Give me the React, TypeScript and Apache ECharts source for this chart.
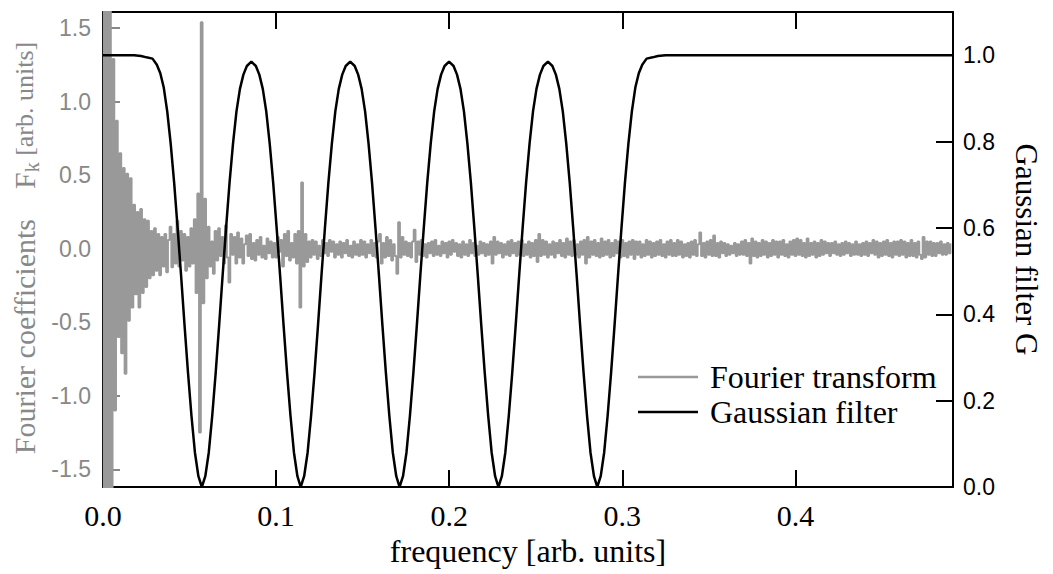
import React, { useEffect, useRef } from 'react';
import * as echarts from 'echarts';

// Sampling step of the Fourier coefficients along the frequency axis
const FREQ_STEP = 0.001;

// Fourier coefficients F_k (left axis), one value per frequency bin (0.000, 0.001, ...)
const fourierCoefficients: number[] = [
  2.6, -2.5, 2.7, -2.4, 2.5, -2.3, 1.29, -1.1, 0.87, -0.6,
  0.65, -0.71, 0.55, -0.85, 0.51, -0.49, 0.48, -0.4, 0.3, -0.31,
  0.25, -0.4, 0.27, -0.3, 0.2, -0.26, 0.19, -0.2, 0.12, -0.18,
  0.14, -0.15, 0.1, -0.18, 0.08, -0.12, 0.1, -0.16, 0.06, 0.15,
  -0.125, 0.1, -0.1, 0.19, -0.12, 0.12, -0.08, 0.1, -0.15, 0.08,
  -0.12, 0.14, -0.1, 0.2, -0.30, 0.375, -1.25, 1.54, -0.37, 0.34,
  -0.2, 0.15, -0.12, 0.05, -0.17, 0.12, -0.08, 0.14, -0.05, 0.08,
  -0.1, 0.16, -0.06, -0.23, 0.1, -0.04, 0.08, -0.1, 0.11, -0.06,
  0.07, -0.1, 0.03, 0.09, -0.05, 0.1, -0.07, 0.04, -0.08, 0.06,
  -0.04, 0.08, -0.06, 0.02, -0.07, 0.07, -0.03, 0.05, -0.06, 0.04,
  -0.06, 0.08, -0.02, 0.06, -0.12, 0.1, -0.05, 0.12, -0.08, 0.04,
  -0.06, 0.1, -0.1, 0.12, -0.40, 0.45, -0.12, 0.1, -0.09, 0.05,
  -0.06, 0.06, -0.04, 0.05, -0.07, 0.02, -0.05, 0.06, -0.03, 0.04,
  -0.05, 0.06, -0.02, 0.05, -0.06, 0.03, -0.04, 0.05, -0.06, 0.04,
  -0.03, 0.06, -0.05, 0.02, -0.06, 0.05, -0.04, 0.03, -0.05, 0.06,
  -0.04, 0.05, -0.06, 0.03, -0.03, 0.06, -0.05, 0.04, -0.06, 0.05,
  0.1, -0.1, 0.04, -0.06, 0.08, -0.05, 0.06, -0.08, 0.03, -0.05,
  -0.17, 0.18, -0.06, 0.08, -0.04, 0.05, -0.05, 0.04, -0.06, 0.05,
  0.13, -0.09, 0.05, -0.04, 0.06, -0.05, 0.03, -0.06, 0.04, -0.03,
  0.05, -0.05, 0.06, -0.04, 0.02, -0.05, 0.05, -0.03, 0.04, -0.06,
  0.05, -0.04, 0.06, -0.02, 0.04, -0.05, 0.03, -0.06, 0.05, -0.04,
  0.03, -0.05, 0.06, -0.03, 0.04, -0.05, 0.02, -0.04, 0.05, -0.03,
  0.04, -0.05, 0.03, -0.04, 0.05, -0.10, 0.08, -0.04, 0.05, -0.03,
  0.04, -0.06, 0.03, -0.04, 0.05, -0.05, 0.06, -0.03, 0.04, -0.05,
  0.05, -0.04, 0.06, -0.05, 0.03, -0.04, 0.05, -0.06, 0.04, -0.05,
  0.06, -0.09, 0.10, -0.05, 0.06, -0.04, 0.05, -0.06, 0.03, -0.04,
  0.05, -0.06, 0.04, -0.03, 0.06, -0.05, 0.04, -0.06, 0.07, -0.04,
  0.05, -0.05, 0.06, -0.04, 0.03, -0.06, 0.05, -0.04, 0.06, -0.10,
  0.08, -0.06, 0.05, -0.04, 0.06, -0.05, 0.04, -0.06, 0.07, -0.05,
  0.05, -0.04, 0.06, -0.06, 0.04, -0.05, 0.06, -0.03, 0.05, -0.06,
  0.06, -0.05, 0.04, -0.06, 0.05, -0.04, 0.06, -0.07, 0.05, -0.04,
  0.05, -0.06, 0.03, -0.05, 0.06, -0.04, 0.05, -0.06, 0.04, -0.05,
  0.05, -0.04, 0.06, -0.05, 0.03, -0.06, 0.05, -0.04, 0.06, -0.05,
  0.04, -0.05, 0.06, -0.04, 0.05, -0.06, 0.03, -0.05, 0.04, -0.06,
  0.05, -0.04, 0.06, -0.05, 0.03, 0.11, -0.05, 0.04, -0.06, 0.05,
  -0.04, 0.06, -0.05, 0.09, -0.05, 0.04, -0.06, 0.05, -0.03, 0.04,
  -0.05, 0.03, -0.04, 0.02, -0.03, 0.04, -0.05, 0.03, -0.04, 0.05,
  -0.04, 0.06, -0.05, 0.04, -0.10, 0.07, -0.05, 0.05, -0.06, 0.04,
  -0.05, 0.06, -0.04, 0.05, -0.06, 0.04, -0.05, 0.06, -0.04, 0.05,
  -0.06, 0.05, -0.04, 0.06, -0.05, 0.03, -0.06, 0.05, -0.04, 0.06,
  -0.05, 0.07, -0.04, 0.06, -0.05, 0.04, -0.06, 0.07, -0.05, 0.04,
  -0.04, 0.05, -0.06, 0.04, -0.05, 0.06, -0.04, 0.05, -0.03, 0.04,
  -0.05, 0.04, -0.03, 0.05, -0.04, 0.03, -0.05, 0.04, -0.04, 0.05,
  -0.03, 0.04, -0.05, 0.03, -0.04, 0.05, -0.04, 0.03, -0.05, 0.04,
  -0.04, 0.05, -0.05, 0.04, -0.03, 0.06, -0.04, 0.05, -0.06, 0.04,
  -0.05, 0.05, -0.04, 0.06, -0.05, 0.04, -0.06, 0.05, -0.04, 0.05,
  -0.05, 0.06, -0.04, 0.05, -0.06, 0.04, -0.05, 0.06, -0.05, 0.04,
  -0.06, 0.05, -0.04, -0.07, 0.08, -0.06, 0.05, -0.04, 0.05, -0.05,
  0.04, -0.05, 0.04, -0.03, 0.05, -0.04, 0.03, -0.04, 0.04, -0.03,
  0.03,
];

// Gaussian filter G (right axis): [frequency, G]
const gaussianFilter: [number, number][] = [
  [0.000, 1.000], [0.018, 1.000], [0.022, 0.998], [0.0251, 0.995], [0.0286, 0.992], [0.0311, 0.978],
  [0.0331, 0.958], [0.0351, 0.925], [0.0371, 0.870], [0.0391, 0.795], [0.0411, 0.705], [0.0431, 0.600],
  [0.0451, 0.490], [0.0471, 0.375], [0.0491, 0.265], [0.0511, 0.165], [0.0531, 0.080], [0.0551, 0.025], [0.0571, 0.000],
  [0.0591, 0.025], [0.0611, 0.080], [0.0631, 0.165], [0.0651, 0.265], [0.0671, 0.375], [0.0691, 0.490], [0.0711, 0.600],
  [0.0731, 0.705], [0.0751, 0.795], [0.0771, 0.870], [0.0791, 0.922], [0.0811, 0.955], [0.0831, 0.975], [0.0857, 0.985],
  [0.0883, 0.975], [0.0903, 0.955], [0.0923, 0.922], [0.0943, 0.870], [0.0963, 0.795], [0.0983, 0.705], [0.1003, 0.600],
  [0.1023, 0.490], [0.1043, 0.375], [0.1063, 0.265], [0.1083, 0.165], [0.1103, 0.080], [0.1123, 0.025], [0.1142, 0.000],
  [0.1162, 0.025], [0.1182, 0.080], [0.1202, 0.165], [0.1222, 0.265], [0.1242, 0.375], [0.1262, 0.490], [0.1282, 0.600],
  [0.1302, 0.705], [0.1322, 0.795], [0.1342, 0.870], [0.1362, 0.922], [0.1382, 0.955], [0.1402, 0.975], [0.1428, 0.985],
  [0.1454, 0.975], [0.1474, 0.955], [0.1494, 0.922], [0.1514, 0.870], [0.1534, 0.795], [0.1554, 0.705], [0.1574, 0.600],
  [0.1594, 0.490], [0.1614, 0.375], [0.1634, 0.265], [0.1654, 0.165], [0.1674, 0.080], [0.1694, 0.025], [0.1713, 0.000],
  [0.1733, 0.025], [0.1753, 0.080], [0.1773, 0.165], [0.1793, 0.265], [0.1813, 0.375], [0.1833, 0.490], [0.1853, 0.600],
  [0.1873, 0.705], [0.1893, 0.795], [0.1913, 0.870], [0.1933, 0.922], [0.1953, 0.955], [0.1973, 0.975], [0.1999, 0.985],
  [0.2025, 0.975], [0.2045, 0.955], [0.2065, 0.922], [0.2085, 0.870], [0.2105, 0.795], [0.2125, 0.705], [0.2145, 0.600],
  [0.2165, 0.490], [0.2185, 0.375], [0.2205, 0.265], [0.2225, 0.165], [0.2245, 0.080], [0.2265, 0.025], [0.2284, 0.000],
  [0.2304, 0.025], [0.2324, 0.080], [0.2344, 0.165], [0.2364, 0.265], [0.2384, 0.375], [0.2404, 0.490], [0.2424, 0.600],
  [0.2444, 0.705], [0.2464, 0.795], [0.2484, 0.870], [0.2504, 0.922], [0.2524, 0.955], [0.2544, 0.975], [0.2570, 0.985],
  [0.2596, 0.975], [0.2616, 0.955], [0.2636, 0.922], [0.2656, 0.870], [0.2676, 0.795], [0.2696, 0.705], [0.2716, 0.600],
  [0.2736, 0.490], [0.2756, 0.375], [0.2776, 0.265], [0.2796, 0.165], [0.2816, 0.080], [0.2836, 0.025], [0.2855, 0.000],
  [0.2875, 0.025], [0.2895, 0.080], [0.2915, 0.165], [0.2935, 0.265], [0.2955, 0.375], [0.2975, 0.490], [0.2995, 0.600],
  [0.3015, 0.705], [0.3035, 0.795], [0.3055, 0.870], [0.3075, 0.925], [0.3095, 0.958], [0.3115, 0.978], [0.3140, 0.992],
  [0.3175, 0.995], [0.3205, 0.998], [0.3250, 1.000], [0.4910, 1.000],
];

const seriesNames = ['Fourier transform', 'Gaussian filter'];
const xAxisTitle = 'frequency [arb. units]';
const rightAxisTitle = 'Gaussian filter G';

const SERIF = '"Liberation Serif", "Times New Roman", Times, serif';
const SANS = '"Liberation Sans", Arial, Helvetica, sans-serif';
const GRAY = '#999999';
const AXIS_GRAY = '#888888';

export default function App() {
  const ref = useRef<HTMLDivElement>(null);

  useEffect(() => {
    if (!ref.current) return;
    const chart = echarts.init(ref.current, null, { renderer: 'svg' });
    const ftData = fourierCoefficients.map((v, i) => [Number((i * FREQ_STEP).toFixed(4)), v]);

    const frameLine = { show: true, onZero: false, lineStyle: { color: '#000', width: 2 } };
    const tickBlack = { show: true, inside: true, length: 17, lineStyle: { color: '#000', width: 2 } };

    chart.setOption({
      animation: false,
      backgroundColor: '#ffffff',
      grid: { left: 103, right: 100, top: 12, bottom: 87, containLabel: false },
      legend: {
        orient: 'vertical',
        left: 638,
        top: 361,
        padding: 0,
        itemGap: 3,
        itemWidth: 60,
        itemHeight: 2.5,
        icon: 'rect',
        textStyle: { fontFamily: SERIF, fontSize: 32, color: '#000', lineHeight: 32, padding: [0, 0, 0, 7] },
        data: seriesNames,
      },
      graphic: [
        {
          type: 'text',
          x: 24,
          y: 248,
          rotation: Math.PI / 2,
          style: {
            text: '{a|Fourier coefficients\u00a0\u00a0\u00a0\u00a0F}{s|k}{b|\u00a0[arb. units]}',
            align: 'center',
            verticalAlign: 'middle',
            rich: {
              a: { fontFamily: SERIF, fontSize: 30, fill: AXIS_GRAY, lineHeight: 36 },
              s: { fontFamily: SERIF, fontSize: 20, fill: AXIS_GRAY, lineHeight: 20, verticalAlign: 'bottom' },
              b: { fontFamily: SERIF, fontSize: 26, fill: AXIS_GRAY, lineHeight: 36 },
            },
          },
        },
      ],
      xAxis: [
        {
          type: 'value',
          position: 'bottom',
          min: 0,
          max: 0.491,
          interval: 0.1,
          axisLine: frameLine,
          axisTick: tickBlack,
          splitLine: { show: false },
          axisLabel: {
            margin: 13,
            fontFamily: SERIF,
            fontSize: 30,
            color: '#000',
            showMaxLabel: false,
            formatter: (v: number) => v.toFixed(1),
          },
          name: xAxisTitle,
          nameLocation: 'middle',
          nameGap: 45,
          nameTextStyle: { fontFamily: SERIF, fontSize: 32, color: '#000' },
        },
        {
          type: 'value',
          position: 'top',
          min: 0,
          max: 0.491,
          interval: 0.1,
          axisLine: frameLine,
          axisTick: tickBlack,
          axisLabel: { show: false },
          splitLine: { show: false },
        },
      ],
      yAxis: [
        {
          type: 'value',
          position: 'left',
          min: -1.62,
          max: 1.61,
          axisLine: frameLine,
          axisTick: { show: true, inside: true, length: 17, lineStyle: { color: AXIS_GRAY, width: 2 } },
          splitLine: { show: false },
          axisLabel: {
            margin: 12,
            fontFamily: SANS,
            fontSize: 23,
            color: AXIS_GRAY,
            showMinLabel: false,
            showMaxLabel: false,
            formatter: (v: number) => v.toFixed(1),
          },
        },
        {
          type: 'value',
          position: 'right',
          min: 0,
          max: 1.1,
          interval: 0.2,
          axisLine: frameLine,
          axisTick: tickBlack,
          splitLine: { show: false },
          axisLabel: {
            margin: 10,
            fontFamily: SANS,
            fontSize: 23,
            color: '#000',
            showMaxLabel: false,
            formatter: (v: number) => v.toFixed(1),
          },
          name: rightAxisTitle,
          nameLocation: 'middle',
          nameRotate: -90,
          nameGap: 58,
          nameTextStyle: { fontFamily: SERIF, fontSize: 31, color: '#000' },
        },
      ],
      series: [
        {
          name: seriesNames[0],
          type: 'line',
          xAxisIndex: 0,
          yAxisIndex: 0,
          step: 'middle',
          symbol: 'none',
          clip: true,
          z: 2,
          color: GRAY,
          lineStyle: { color: GRAY, width: 2 },
          data: ftData,
        },
        {
          name: seriesNames[1],
          type: 'line',
          xAxisIndex: 0,
          yAxisIndex: 1,
          symbol: 'none',
          clip: true,
          z: 3,
          color: '#000',
          lineStyle: { color: '#000', width: 2.5 },
          data: gaussianFilter,
        },
      ],
    });

    return () => chart.dispose();
  }, []);

  return (
    <div
      ref={ref}
      style={{ position: 'fixed', left: 0, top: 0, width: 1053, height: 574, background: '#fff' }}
    />
  );
}
